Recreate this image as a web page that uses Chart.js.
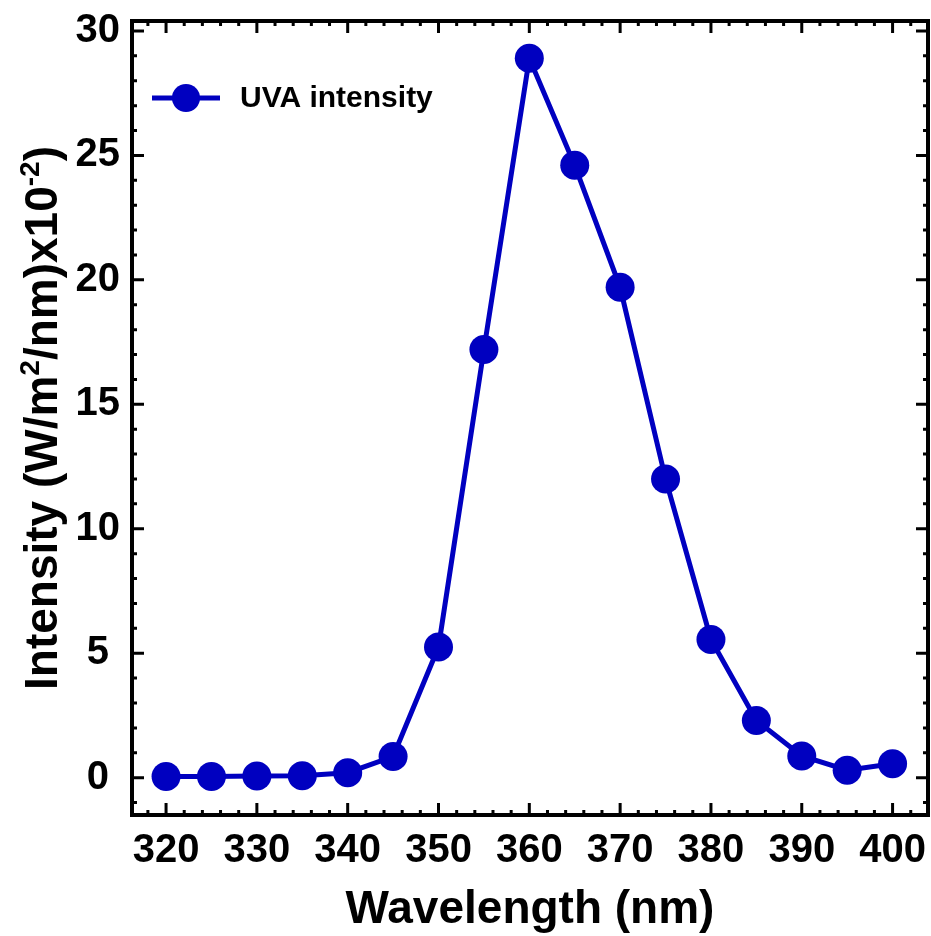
<!DOCTYPE html>
<html>
<head>
<meta charset="utf-8">
<script src="https://cdn.jsdelivr.net/npm/chart.js@4/dist/chart.umd.min.js"></script>
<style>
  html, body { margin: 0; padding: 0; background: #fff; }
  canvas { display: block; }
</style>
</head>
<body>
<canvas id="uvachart" width="931" height="936"></canvas>
<script>
// data
const wavelengths = [320, 325, 330, 335, 340, 345, 350, 355, 360, 365, 370, 375, 380, 385, 390, 395, 400];
const intensity = [0.05, 0.05, 0.07, 0.08, 0.2, 0.85, 5.25, 17.2, 28.9, 24.6, 19.7, 12.0, 5.55, 2.3, 0.87, 0.3, 0.56];
const xTickValues = [320, 330, 340, 350, 360, 370, 380, 390, 400];
const yTickValues = [0, 5, 10, 15, 20, 25, 30];
const seriesLabel = 'UVA intensity';

const fontFamily = '"Liberation Sans", Arial, sans-serif';
const blue = '#0000c0';

// frame, inward ticks on all four sides, titles and legend
const framePlugin = {
	id: 'frame',
	afterDraw: function(chart) {
		const ctx = chart.ctx;
		const area = chart.chartArea;
		const xs = chart.scales.x;
		const ys = chart.scales.y;
		ctx.save();
		ctx.strokeStyle = '#000';
		ctx.lineWidth = 3;
		ctx.beginPath();
		for (let v = 318; v <= 402; v += 2) {
			const px = xs.getPixelForValue(v);
			const len = v % 10 === 0 ? 12 : 5;
			ctx.moveTo(px, area.bottom); ctx.lineTo(px, area.bottom - len);
			ctx.moveTo(px, area.top); ctx.lineTo(px, area.top + len);
		}
		for (let v = -1; v <= 30; v += 1) {
			const py = ys.getPixelForValue(v);
			const len = v % 5 === 0 ? 12 : 5;
			ctx.moveTo(area.left, py); ctx.lineTo(area.left + len, py);
			ctx.moveTo(area.right, py); ctx.lineTo(area.right - len, py);
		}
		ctx.stroke();
		ctx.lineWidth = 4;
		ctx.strokeRect(area.left, area.top, area.right - area.left, area.bottom - area.top);

		// x title
		ctx.fillStyle = '#000';
		ctx.font = 'bold 46px ' + fontFamily;
		ctx.textAlign = 'center';
		ctx.textBaseline = 'alphabetic';
		ctx.fillText('Wavelength (nm)', (area.left + area.right) / 2, 923);

		// y title with superscripts
		const parts = [
			['Intensity (W/m', false], ['2', true], ['/nm)x10', false], ['-2', true], [')', false]
		];
		const big = 'bold 46px ' + fontFamily;
		const small = 'bold 28px ' + fontFamily;
		let total = 0;
		parts.forEach(function(p) {
			ctx.font = p[1] ? small : big;
			total += ctx.measureText(p[0]).width;
		});
		ctx.translate(57, (area.top + area.bottom) / 2);
		ctx.rotate(-Math.PI / 2);
		ctx.textAlign = 'left';
		let x = -total / 2;
		parts.forEach(function(p) {
			ctx.font = p[1] ? small : big;
			ctx.fillText(p[0], x, p[1] ? -18 : 0);
			x += ctx.measureText(p[0]).width;
		});
		ctx.restore();

		// legend
		ctx.save();
		const ly = area.top + 77;
		const lx = area.left + 20;
		ctx.strokeStyle = blue;
		ctx.lineWidth = 5;
		ctx.beginPath();
		ctx.moveTo(lx, ly); ctx.lineTo(lx + 68, ly);
		ctx.stroke();
		ctx.fillStyle = blue;
		ctx.beginPath();
		ctx.arc(lx + 34, ly, 14, 0, Math.PI * 2);
		ctx.fill();
		ctx.fillStyle = '#000';
		ctx.font = 'bold 30px ' + fontFamily;
		ctx.textBaseline = 'middle';
		ctx.fillText(seriesLabel, lx + 88, ly + 1);
		ctx.restore();
	}
};

new Chart(
	document.getElementById('uvachart'),
	{
		type: 'line',
		data: {
			datasets: [{
				label: seriesLabel,
				data: wavelengths.map(function(w, i) { return { x: w, y: intensity[i] }; }),
				borderColor: blue,
				backgroundColor: blue,
				borderWidth: 5,
				pointRadius: 14.5,
				pointBorderWidth: 0,
				pointBackgroundColor: blue,
				tension: 0
			}]
		},
		options: {
			responsive: false,
			animation: false,
			layout: { autoPadding: false, padding: { top: 21, right: 3, left: 0, bottom: 0 } },
			plugins: {
				legend: { display: false },
				tooltip: { enabled: false }
			},
			scales: {
				x: {
					type: 'linear',
					min: 316.25,
					max: 403.9,
					afterBuildTicks: function(scale) {
						scale.ticks = xTickValues.map(function(v) { return { value: v }; });
					},
					afterFit: function(scale) {
						scale.height = 121;
						scale.paddingLeft = 0;
						scale.paddingRight = 0;
					},
					grid: { display: false, drawTicks: false },
					border: { display: false },
					ticks: {
						autoSkip: false,
						maxRotation: 0,
						padding: 12,
						color: '#000',
						font: { family: fontFamily, size: 40, weight: 'bold' }
					}
				},
				y: {
					min: -1.5,
					max: 30.4,
					afterBuildTicks: function(scale) {
						scale.ticks = yTickValues.map(function(v) { return { value: v }; });
					},
					afterFit: function(scale) {
						scale.width = 132;
						scale.paddingTop = 0;
						scale.paddingBottom = 0;
					},
					grid: { display: false, drawTicks: false },
					border: { display: false },
					ticks: {
						crossAlign: 'center',
						padding: 12,
						color: '#000',
						font: { family: fontFamily, size: 40, weight: 'bold' }
					}
				}
			}
		},
		plugins: [framePlugin]
	}
);
</script>
</body>
</html>
